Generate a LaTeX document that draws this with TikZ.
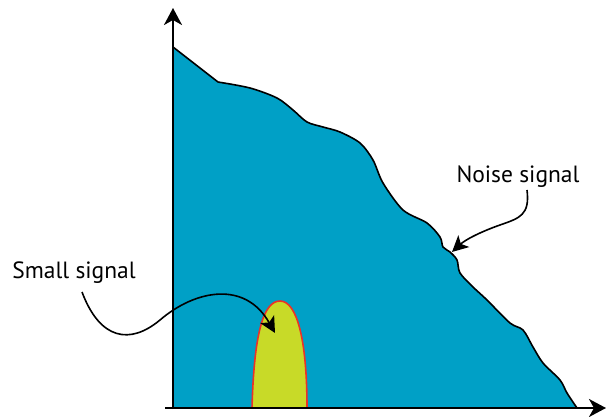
\documentclass[tikz,border=0pt]{standalone}
\usepackage{fontspec}
\setmainfont{PT Sans}
\usetikzlibrary{arrows.meta}
\definecolor{noiseblue}{RGB}{0,160,198}
\definecolor{sigyellow}{RGB}{200,218,40}
\definecolor{sigred}{RGB}{235,50,40}
\tikzset{
  axis/.style={line width=2pt, -{Stealth[length=17pt,width=18pt,inset=5pt]}},
  pointer/.style={line width=1.6pt, -{Stealth[length=16pt,width=16pt,inset=4pt]}},
  lbl/.style={font=\fontsize{23.5}{27}\selectfont, inner sep=0pt}
}
\begin{document}
\begin{tikzpicture}[x=1pt,y=-1pt]
\useasboundingbox (0,0) rectangle (606,417);
% noise region
\fill[noiseblue] (173,408) -- (173,47) -- (218,82)
  -- plot[smooth,tension=0.5] coordinates {(218,82) (250,88) (277,98) (293,110) (307,122) (323,127) (340,132) (360,143) (373,160) (383,183) (403,210) (427,223) (440,237) (443,247) (450,252) (457,260) (460,273) (473,287) (487,300) (510,323) (523,330) (533,347) (543,363) (560,380) (567,393) (577,408)} -- cycle;
\draw[line width=1.6pt, line join=round] (173,47) -- (218,82)
  -- plot[smooth,tension=0.5] coordinates {(218,82) (250,88) (277,98) (293,110) (307,122) (323,127) (340,132) (360,143) (373,160) (383,183) (403,210) (427,223) (440,237) (443,247) (450,252) (457,260) (460,273) (473,287) (487,300) (510,323) (523,330) (533,347) (543,363) (560,380) (567,393) (577,408)};
% small signal bump
\draw[sigred, fill=sigyellow, line width=1.6pt] (252,408) .. controls (254,335) and (263,301) .. (280,301) .. controls (297,301) and (307,340) .. (307,408);
% axes
\coordinate (o) at (173,409);
\coordinate (ytip) at (173,8);
\coordinate (xstart) at (165,408);
\coordinate (xtip) at (606,408);
\draw[axis] (o) -- (ytip);
\draw[axis] (xstart) -- (xtip);
% labels
\node[lbl] (noise) at (518,177) {Noise signal};
\node[lbl] (small) at (74,273) {Small signal};
\coordinate (ntip) at (452,252);
\coordinate (stip) at (275,333);
\draw[pointer] (527,190) .. controls (530,215) and (520,218) .. (500,225) .. controls (480,232) and (465,240) .. (ntip);
\draw[pointer] (82,292) .. controls (100,340) and (130,345) .. (160,320) .. controls (195,290) and (245,280) .. (stip);
\end{tikzpicture}
\end{document}
